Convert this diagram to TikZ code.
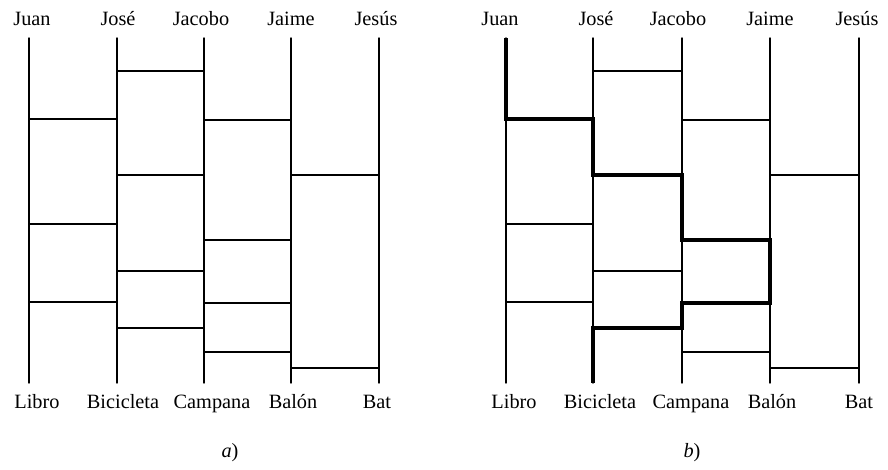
\documentclass[tikz,border=0pt]{standalone}
\usepackage{fontspec}
\setmainfont{Liberation Serif}
\begin{document}
\begin{tikzpicture}[x=1pt,y=-1pt,
  rail/.style={line width=1.4pt,line cap=round},
  route/.style={line width=3.4pt,line join=miter},
  lbl/.style={font=\fontsize{20.3}{20.3}\selectfont,inner sep=0pt,anchor=base}]
\useasboundingbox (0,0) rectangle (888,469);

% rails of both ladders: (A = left panel, B = right panel)
\foreach \p/\xs in {A/{29,117,204,291,379},B/{506,593,682,770,859}}{
  \foreach \x [count=\i] in \xs {
    \coordinate (\p\i t) at (\x,38);
    \coordinate (\p\i b) at (\x,383);
    \draw[rail] (\p\i t) -- (\p\i b);
  }
  % rungs: left rail index / height
  \foreach \i/\y in {1/119,1/224,1/302,2/71,2/175,2/271,2/328,
                     3/120,3/240,3/303,3/352,4/175,4/368}{
    \pgfmathtruncatemacro\j{\i+1}
    \draw[rail] (\p\i t |- 0,\y) -- (\p\j t |- 0,\y);
  }
}

% traced route from Juan to Bicicleta
\draw[route] (B1t) -- (B1t |- 0,119) -- (B2t |- 0,119) -- (B2t |- 0,175)
  -- (B3t |- 0,175) -- (B3t |- 0,240) -- (B4t |- 0,240) -- (B4t |- 0,303)
  -- (B3t |- 0,303) -- (B3t |- 0,328) -- (B2t |- 0,328) -- (B2b);

% names on top
\node[lbl] (Ajuan)  at (32,25)  {Juan};
\node[lbl] (Ajose)  at (118,25) {José};
\node[lbl] (Ajac)   at (201,25) {Jacobo};
\node[lbl] (Ajai)   at (291,25) {Jaime};
\node[lbl] (Ajes)   at (376,25) {Jesús};
\node[lbl] (Bjuan)  at (500,25) {Juan};
\node[lbl] (Bjose)  at (596,25) {José};
\node[lbl] (Bjac)   at (678,25) {Jacobo};
\node[lbl] (Bjai)   at (770,25) {Jaime};
\node[lbl] (Bjes)   at (857,25) {Jesús};

% objects at the bottom
\node[lbl] (Alib) at (37,408)  {Libro};
\node[lbl] (Abic) at (123,408) {Bicicleta};
\node[lbl] (Acam) at (212,408) {Campana};
\node[lbl] (Abal) at (293,408) {Balón};
\node[lbl] (Abat) at (377,408) {Bat};
\node[lbl] (Blib) at (514,408) {Libro};
\node[lbl] (Bbic) at (600,408) {Bicicleta};
\node[lbl] (Bcam) at (691,408) {Campana};
\node[lbl] (Bbal) at (772,408) {Balón};
\node[lbl] (Bbat) at (859,408) {Bat};

% panel captions
\node[lbl] (capA) at (230,457) {\textit{a})};
\node[lbl] (capB) at (692,457) {\textit{b})};
\end{tikzpicture}
\end{document}
